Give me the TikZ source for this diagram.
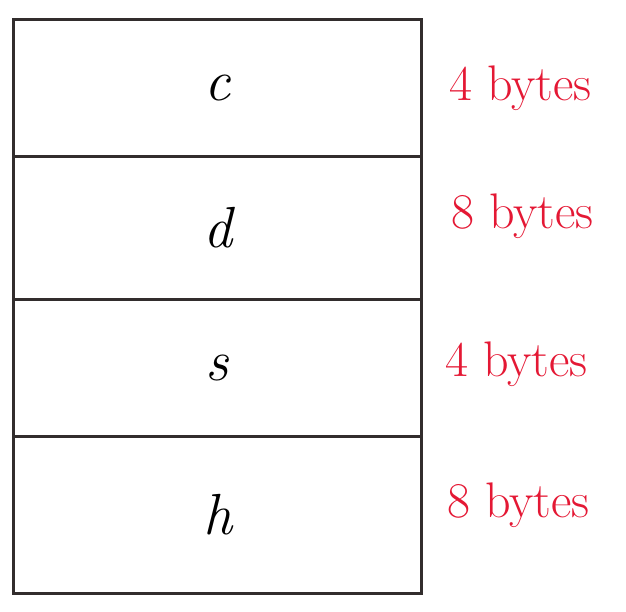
\documentclass[tikz,border=0pt]{standalone}
\usepackage{fontspec}
\usetikzlibrary{positioning}
\definecolor{inkred}{RGB}{228,24,52}
\definecolor{pencil}{RGB}{50,45,45}
\begin{document}
\begin{tikzpicture}[x=1pt, y=-1pt,
		cell/.style={draw=pencil, line width=3pt, minimum width=408pt, inner sep=0pt,
			anchor=north west, font=\fontsize{58}{60}\selectfont\itshape},
		size/.style={inkred, inner sep=0pt, font=\fontsize{50}{56}\selectfont}]
	% Bildbereich
	\useasboundingbox (0,0) rectangle (626,611);
	% Felder der Struktur
	\node[cell, minimum height=137pt] (cellc) at (12,18) {c};
	\node[cell, minimum height=143pt] (celld) at (12,155) {d};
	\node[cell, minimum height=137pt] (cells) at (12,298) {s};
	\node[cell, minimum height=157pt] (cellh) at (12,435) {h};
	% Groessen beschriften
	\node[size, right=26pt of cellc] (sizec) {4 bytes};
	\node[size, right=28pt of celld, yshift=12pt] (sized) {8 bytes};
	\node[size, right=22pt of cells, yshift=4pt] (sizes) {4 bytes};
	\node[size, right=24pt of cellh, yshift=10pt] (sizeh) {8 bytes};
\end{tikzpicture}
\end{document}
